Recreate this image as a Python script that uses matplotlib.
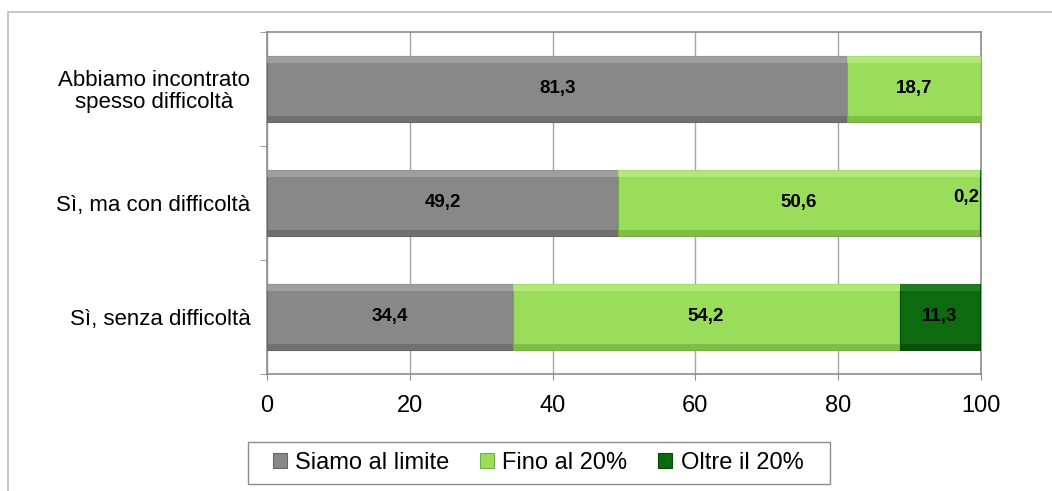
import matplotlib.pyplot as plt
from matplotlib.patches import Rectangle

plt.rcParams['font.family'] = ['Liberation Sans', 'DejaVu Sans']

# Data (bottom to top)
categories = ['Sì, senza difficoltà', 'Sì, ma con difficoltà', 'Abbiamo incontrato\nspesso difficoltà']
series = ['Siamo al limite', 'Fino al 20%', 'Oltre il 20%']
siamo = [34.4, 49.2, 81.3]
fino = [54.2, 50.6, 18.7]
oltre = [11.3, 0.2, 0.0]
values = [siamo, fino, oltre]
colors = ['#888888', '#9ADD5A', '#0E6A0E']
shades = [('#A8A8A8', '#666666'), ('#BDEE85', '#74B040'), ('#2A862A', '#064806')]

fig = plt.figure(figsize=(10.52, 4.91), dpi=100)
ax = fig.add_axes([267 / 1052, 1 - 374 / 491, (981 - 267) / 1052, (374 - 32) / 491])

# outer chart border
fig.patches.append(Rectangle((8 / 1052, -0.2), 2, 1.2 - 12 / 491, transform=fig.transFigure,
                             fill=False, edgecolor='#BDBDBD', linewidth=1.2))

ypos = list(range(len(categories)))
h = 0.58
left = [0.0] * len(categories)
handles = []
for vals, col, (hi, lo), name in zip(values, colors, shades, series):
    b = ax.barh(ypos, vals, left=left, height=h, color=col, edgecolor=lo, linewidth=0.8, zorder=3)
    # bevel: lighter top strip, darker bottom strip
    ax.barh([y + h / 2 - 0.03 for y in ypos], vals, left=left, height=0.06, color=hi,
            linewidth=0, zorder=4, alpha=0.7)
    ax.barh([y - h / 2 + 0.025 for y in ypos], vals, left=left, height=0.05, color=lo,
            linewidth=0, zorder=4, alpha=0.7)
    handles.append(b)
    for y, v, l in zip(ypos, vals, left):
        if v <= 0:
            continue
        lbl = f'{v:.1f}'.replace('.', ',')
        if v < 1:
            ax.text(l + v - 0.3, y + 0.05, lbl, ha='right', va='center', fontsize=13.5,
                    fontweight='bold', zorder=5)
        else:
            ax.text(l + v / 2, y, lbl, ha='center', va='center', fontsize=13.5,
                    fontweight='bold', zorder=5)
    left = [a + b_ for a, b_ in zip(left, vals)]

ax.set_xlim(0, 100)
ax.set_ylim(-0.5, 2.5)
ax.set_xticks([0, 20, 40, 60, 80, 100])
ax.set_yticks(ypos)
ax.set_yticklabels(categories, multialignment='center', linespacing=1.05)
ax.set_yticks([-0.5, 0.5, 1.5, 2.5], minor=True)
ax.tick_params(axis='y', which='major', length=0, pad=12, labelsize=16)
ax.tick_params(axis='y', which='minor', length=5, color='#8C8C8C')
ax.tick_params(axis='x', length=4, color='#8C8C8C', pad=11, labelsize=17)
ax.grid(axis='x', color='#A6A6A6', linewidth=1, zorder=0)
ax.set_axisbelow(True)
for s in ax.spines.values():
    s.set_color('#8C8C8C')
    s.set_linewidth(1.2)

leg = fig.legend(handles, series, loc='center', bbox_to_anchor=(538 / 1052, 1 - 463 / 491), ncol=3,
                 fontsize=17, frameon=False,
                 handlelength=0.6, handleheight=0.6, handletextpad=0.35, columnspacing=1.3,
                 borderpad=0.3)
# legend box
fig.patches.append(Rectangle((248 / 1052, 1 - 484 / 491), (830 - 248) / 1052, 42 / 491,
                             transform=fig.transFigure, fill=False, edgecolor='#8C8C8C',
                             linewidth=1.0))

fig.savefig('out.png', dpi=100)
